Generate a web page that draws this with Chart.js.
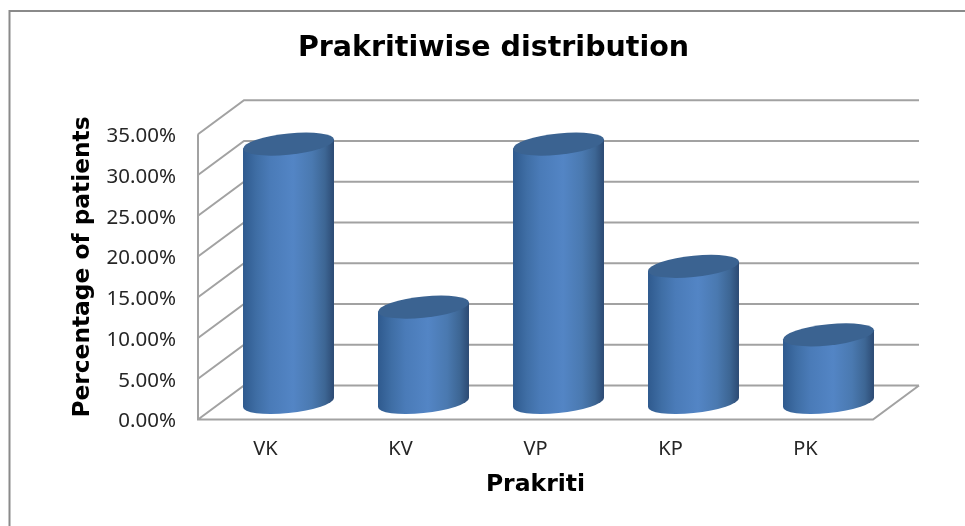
<!DOCTYPE html>
<html lang="en">
<head>
    <meta charset="UTF-8">
    <title>Prakritiwise distribution</title>
    <script src="https://cdn.jsdelivr.net/npm/chart.js"></script>
    <style>
        html, body { margin: 0; padding: 0; background: #fff; }
        canvas { display: block; }
    </style>
</head>
<body>
    <canvas id="chart" width="965" height="526"></canvas>

    <script>
    const categories = ['VK', 'KV', 'VP', 'KP', 'PK'];
    const percentages = [31.7, 11.7, 31.7, 16.7, 8.3];
    const yTicks = [0, 5, 10, 15, 20, 25, 30, 35];

    const chartTitle = 'Prakritiwise distribution';
    const xTitle = 'Prakriti';
    const yTitle = 'Percentage of patients';

    // 3D look: offset between the front plane and the back wall
    const depthX = 46;
    const depthY = 34;
    const gridColor = '#a2a2a2';
    const borderColor = '#8a8a8a';

    const frame = {
        id: 'frame',
        beforeDraw(chart) {
            const { ctx, chartArea: { left, right, top, bottom }, scales: { y } } = chart;
            ctx.save();
            ctx.fillStyle = '#fff';
            ctx.fillRect(0, 0, chart.width, chart.height);

            // chart border
            ctx.strokeStyle = borderColor;
            ctx.lineWidth = 2;
            ctx.beginPath();
            ctx.moveTo(9.5, 526);
            ctx.lineTo(9.5, 11);
            ctx.lineTo(965, 11);
            ctx.stroke();

            // walls and floor
            ctx.strokeStyle = gridColor;
            ctx.beginPath();
            yTicks.forEach(t => {
                const py = y.getPixelForValue(t);
                ctx.moveTo(left, py);
                ctx.lineTo(left + depthX, py - depthY);
                ctx.lineTo(right + depthX, py - depthY);
            });
            ctx.moveTo(left, top);
            ctx.lineTo(left, bottom);
            ctx.lineTo(right, bottom);
            ctx.lineTo(right + depthX, bottom - depthY);
            ctx.stroke();
            ctx.restore();
        }
    };

    const cylinders = {
        id: 'cylinders',
        afterDatasetsDraw(chart) {
            const { ctx } = chart;
            chart.getDatasetMeta(0).data.forEach(bar => {
                const a = bar.width / 2;
                const b = 10.6;
                const cx = bar.x + depthX / 2;
                const topY = bar.y - depthY / 2;
                const botY = bar.base - depthY / 2;

                ctx.save();
                // slanted ellipses, the left side sits lower than the right
                ctx.transform(1, -0.1, 0, 1, cx, 0);

                const side = ctx.createLinearGradient(-a, 0, a, 0);
                side.addColorStop(0, '#2f5a8e');
                side.addColorStop(0.15, '#3f6ea5');
                side.addColorStop(0.3, '#4a7bb8');
                side.addColorStop(0.55, '#5385c5');
                side.addColorStop(0.76, '#4a79b0');
                side.addColorStop(0.9, '#3d6694');
                side.addColorStop(1, '#2c4a73');

                ctx.beginPath();
                ctx.moveTo(-a, topY);
                ctx.lineTo(-a, botY);
                ctx.ellipse(0, botY, a, b, 0, Math.PI, 0, true);
                ctx.lineTo(a, topY);
                ctx.closePath();
                ctx.fillStyle = side;
                ctx.fill();

                ctx.beginPath();
                ctx.ellipse(0, topY, a, b, 0, 0, Math.PI * 2);
                ctx.fillStyle = '#3b6391';
                ctx.fill();
                ctx.restore();
            });
        }
    };

    const axisTitleLeft = {
        id: 'axisTitleLeft',
        afterDraw(chart) {
            const { ctx } = chart;
            ctx.save();
            ctx.translate(83, 267);
            ctx.rotate(-Math.PI / 2);
            ctx.font = 'bold 23.3px "DejaVu Sans"';
            ctx.fillStyle = '#000';
            ctx.textAlign = 'center';
            ctx.textBaseline = 'middle';
            ctx.fillText(yTitle, 0, 0);
            ctx.restore();
        }
    };

    // title is not centred on the plot in the original
    const titleShift = {
        id: 'titleShift',
        afterLayout(chart) {
            chart.titleBlock.left += 114;
        }
    };

    new Chart(document.getElementById('chart'), {
        type: 'bar',
        data: {
            labels: categories,
            datasets: [{
                data: percentages,
                backgroundColor: 'rgba(0,0,0,0)',
                barPercentage: 0.674,
                categoryPercentage: 1
            }]
        },
        options: {
            responsive: false,
            animation: false,
            layout: { padding: { top: 0, right: 92, bottom: 26, left: 0 } },
            plugins: {
                legend: { display: false },
                tooltip: { enabled: false },
                title: {
                    display: true,
                    text: chartTitle,
                    color: '#000',
                    font: { family: '"DejaVu Sans"', size: 28.5, weight: 'bold' },
                    padding: { top: 31, bottom: 69 }
                }
            },
            scales: {
                x: {
                    grid: { display: false, drawTicks: false },
                    border: { display: false },
                    ticks: {
                        color: '#262626',
                        padding: 18,
                        font: { family: '"Noto Sans"', size: 20 }
                    },
                    title: {
                        display: true,
                        text: xTitle,
                        color: '#000',
                        font: { family: '"DejaVu Sans"', size: 23.5, weight: 'bold' },
                        padding: { top: 10, bottom: 1 }
                    },
                    afterFit: s => { s.height = 80.5; }
                },
                y: {
                    min: 0,
                    max: 35,
                    grid: { display: false, drawTicks: false },
                    border: { display: false },
                    ticks: {
                        stepSize: 5,
                        color: '#262626',
                        padding: 22,
                        labelOffset: 2,
                        font: { family: '"Noto Sans"', size: 20.5 },
                        callback: v => v.toFixed(2) + '%'
                    },
                    afterFit: s => { s.width = 198; }
                }
            }
        },
        plugins: [frame, cylinders, axisTitleLeft, titleShift]
    });
    </script>
</body>
</html>
